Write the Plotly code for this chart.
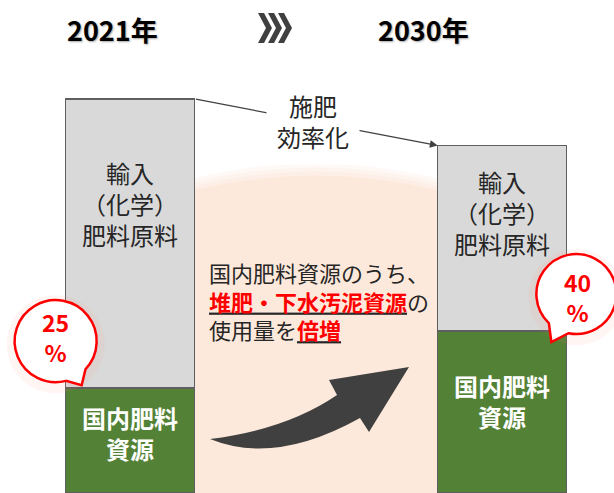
import math
import plotly.graph_objects as go

# data (bar heights in common units, 2021 total = 100)
categories = ["2021年", "2030年"]
x_pos = [0, 1]
domestic = [26.6, 41.1]   # 国内肥料資源
imported = [73.4, 47.1]   # 輸入（化学）肥料原料
share_text = ["25<br>%", "40<br>%"]
domestic_label = "国内肥料<br>資源"
import_label = "輸入<br>（化学）<br>肥料原料"

W, H = 614, 493
bar_w = 0.346
y_max = 125.1
FONT = "Noto Sans CJK JP"
GRAY = "#d9d9d9"
GREEN = "#538135"
EDGE = "#5f5f5f"
RED = "#ff0000"
DARK = "#404040"
TXT = "#262626"
PEACH = "#fde9db"


def px(x):
    return x / W


def py(y):
    return 1 - y / H


def poly(points):
    return "M" + " L".join(f"{px(x):.4f},{py(y):.4f}" for x, y in points) + " Z"


def bubble_path(cx, cy, r, tx, ty, half=16):
    # circle with a pointed tail, local pixel coords (y up)
    th = math.atan2(ty - cy, tx - cx)
    a0 = th + math.radians(half)
    a1 = th + 2 * math.pi - math.radians(half)
    n = 4
    step = (a1 - a0) / n
    k = 4 / 3 * math.tan(step / 4)
    d = f"M{cx + r * math.cos(a0):.2f},{cy + r * math.sin(a0):.2f}"
    for i in range(n):
        s = a0 + i * step
        e = s + step
        p1 = (cx + r * (math.cos(s) - k * math.sin(s)), cy + r * (math.sin(s) + k * math.cos(s)))
        p2 = (cx + r * (math.cos(e) + k * math.sin(e)), cy + r * (math.sin(e) - k * math.cos(e)))
        p3 = (cx + r * math.cos(e), cy + r * math.sin(e))
        d += f" C{p1[0]:.2f},{p1[1]:.2f} {p2[0]:.2f},{p2[1]:.2f} {p3[0]:.2f},{p3[1]:.2f}"
    d += f" L{tx:.2f},{ty:.2f} Z"
    return d


fig = go.Figure()
fig.add_trace(go.Bar(x=x_pos, y=domestic, width=bar_w, name="国内肥料資源",
                     marker=dict(color=GREEN, line=dict(color=EDGE, width=1.5))))
fig.add_trace(go.Bar(x=x_pos, y=imported, width=bar_w, name="輸入肥料原料",
                     marker=dict(color=GRAY, line=dict(color=EDGE, width=1.5))))

shapes = []

# peach background between the bars, soft top edge
for off, op in [(12, 0.25), (8, 0.3), (4, 0.4), (0, 1.0)]:
    top_e, top_c = 191 - off, 160 - off
    shapes.append(dict(type="path", xref="paper", yref="paper", layer="below",
                       path=f"M{px(190):.4f},{py(495):.4f} L{px(190):.4f},{py(top_e):.4f} "
                            f"Q{px(315.5):.4f},{py(top_c):.4f} {px(441):.4f},{py(top_e):.4f} "
                            f"L{px(441):.4f},{py(495):.4f} Z",
                       fillcolor=PEACH, opacity=op, line=dict(width=0)))

# chevrons between the years
for x0 in [258, 268, 278]:
    shapes.append(dict(type="path", xref="paper", yref="paper",
                       path=poly([(x0, 13), (x0 + 6, 13), (x0 + 14, 28), (x0 + 6, 43), (x0, 43), (x0 + 8, 28)]),
                       fillcolor=DARK, line=dict(width=0)))

# big curved arrow
arrow = (f"M{px(210):.4f},{py(439):.4f} Q{px(286.5):.4f},{py(429.5):.4f} {px(337):.4f},{py(395):.4f} "
         f"L{px(329):.4f},{py(380):.4f} L{px(409):.4f},{py(367):.4f} L{px(369):.4f},{py(432):.4f} "
         f"L{px(360):.4f},{py(418):.4f} Q{px(275):.4f},{py(465.5):.4f} {px(210):.4f},{py(439):.4f} Z")
shapes.append(dict(type="path", xref="paper", yref="paper", path=arrow,
                   fillcolor=DARK, line=dict(width=0), layer="above"))

# speech bubbles anchored at the split point of each bar
bubbles = [
    dict(xa=x_pos[0] - bar_w / 2, ya=domestic[0], cx=-10, cy=47, r=41, tx=16, ty=3, lx=-10, ly=51),
    dict(xa=x_pos[1] + bar_w / 2, ya=domestic[1], cx=10, cy=37, r=40, tx=-15, ty=-11, lx=11, ly=34),
]
for b in bubbles:
    shapes.append(dict(type="circle", xref="x", yref="y", xsizemode="pixel", ysizemode="pixel",
                       xanchor=b["xa"], yanchor=b["ya"], layer="above",
                       x0=b["cx"] - b["r"] - 8, x1=b["cx"] + b["r"] + 8,
                       y0=b["cy"] - b["r"] - 11, y1=b["cy"] + b["r"] + 5,
                       fillcolor="rgba(255,140,110,0.08)", line=dict(width=0)))
    shapes.append(dict(type="path", xref="x", yref="y", xsizemode="pixel", ysizemode="pixel",
                       xanchor=b["xa"], yanchor=b["ya"], layer="above",
                       path=bubble_path(b["cx"], b["cy"], b["r"], b["tx"], b["ty"]),
                       fillcolor="white", line=dict(color=RED, width=2.5)))

annotations = []
# year titles
for cat, xc in zip(categories, [112.5, 423]):
    annotations.append(dict(text=f"<b>{cat}</b>", x=px(xc), y=py(29), xref="paper", yref="paper",
                            xanchor="center", yanchor="middle", showarrow=False,
                            font=dict(family=FONT, size=27, color="#000000",
                                      shadow="1px 1px 2px rgba(0,0,0,0.35)")))

# labels inside bars
for i in range(2):
    annotations.append(dict(text=import_label, x=x_pos[i], y=domestic[i] + imported[i] * 0.637,
                            showarrow=False, font=dict(family=FONT, size=24, color=TXT)))
    annotations.append(dict(text=f"<b>{domestic_label}</b>", x=x_pos[i], y=domestic[i] * 0.57,
                            showarrow=False, font=dict(family=FONT, size=24, color="white")))

# share bubbles text
for b, t in zip(bubbles, share_text):
    annotations.append(dict(text=f"<b>{t}</b>", x=b["xa"], y=b["ya"], xshift=b["lx"], yshift=b["ly"],
                            showarrow=False, font=dict(family=FONT, size=23, color=RED)))

# efficiency arrow: top of 2021 bar -> top of 2030 bar
annotations.append(dict(text="", x=x_pos[1] - bar_w / 2, y=domestic[1] + imported[1],
                        ax=x_pos[0] + bar_w / 2, ay=domestic[0] + imported[0], axref="x", ayref="y",
                        showarrow=True, arrowhead=2, arrowsize=1.3, arrowwidth=1.2,
                        arrowcolor=DARK, standoff=0, startstandoff=0))
annotations.append(dict(text="施肥<br>効率化", x=px(313), y=py(121), xref="paper", yref="paper",
                        xanchor="center", yanchor="middle", showarrow=False,
                        bgcolor="white", borderpad=10,
                        font=dict(family=FONT, size=24, color=TXT)))

# centre message
u = 'style="text-decoration:underline"'
msg = ("国内肥料資源のうち、<br>"
       f'<span {u}><b><span style="color:{RED}">堆肥・下水汚泥資源</span></b></span>の<br>'
       f'使用量を<span {u}><b><span style="color:{RED}">倍増</span></b></span>')
annotations.append(dict(text=msg, x=px(207), y=py(300), xref="paper", yref="paper",
                        xanchor="left", yanchor="middle", align="left", showarrow=False,
                        font=dict(family=FONT, size=22, color=TXT)))

fig.update_layout(
    width=W, height=H, margin=dict(l=0, r=0, t=0, b=0),
    barmode="stack", showlegend=False,
    plot_bgcolor="white", paper_bgcolor="white",
    xaxis=dict(range=[-0.3495, 1.301], visible=False, fixedrange=True),
    yaxis=dict(range=[0, y_max], visible=False, fixedrange=True),
    shapes=shapes, annotations=annotations,
    font=dict(family=FONT),
)

fig.write_html("out.html", config={"displayModeBar": False},
               post_script="document.body.style.margin='0';")
